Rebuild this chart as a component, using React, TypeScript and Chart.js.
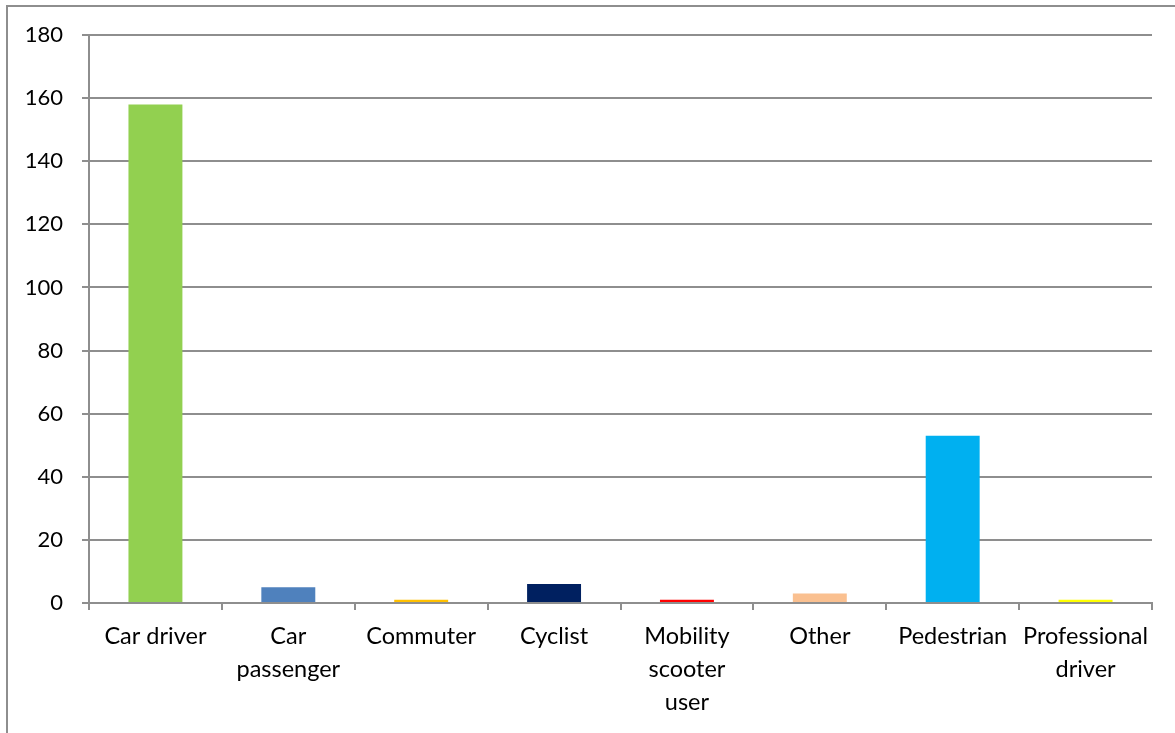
import React, { useEffect, useRef } from "react";
import { Chart, registerables } from "chart.js";

Chart.register(...registerables);

const categories: (string | string[])[] = [
  "Car driver",
  ["Car", "passenger"],
  "Commuter",
  "Cyclist",
  ["Mobility", "scooter", "user"],
  "Other",
  "Pedestrian",
  ["Professional", "driver"],
];
const values: number[] = [158, 5, 1, 6, 1, 3, 53, 1];
const barColors: string[] = [
  "#92D050",
  "#4F81BD",
  "#FFC000",
  "#002060",
  "#FF0000",
  "#FAC090",
  "#00B0F0",
  "#FFFF00",
];
const yMin = 0;
const yMax = 180;
const yStep = 20;

const FONT = "Lato, 'Open Sans', sans-serif";
const GRID = "#8e8e8e";

export default function App() {
  const ref = useRef<HTMLCanvasElement | null>(null);

  useEffect(() => {
    if (!ref.current) return;
    const chart = new Chart(ref.current, {
      type: "bar",
      data: {
        labels: categories,
        datasets: [
          {
            data: values,
            backgroundColor: barColors,
            borderWidth: 0,
            barPercentage: 0.406,
            categoryPercentage: 1,
          },
        ],
      },
      options: {
        animation: false,
        responsive: false,
        maintainAspectRatio: false,
        devicePixelRatio: 1,
        layout: { padding: { left: 0, right: 23, top: 35, bottom: 0 } },
        plugins: {
          legend: { display: false },
          tooltip: { enabled: false },
          title: { display: false },
        },
        scales: {
          x: {
            offset: true,
            grid: {
              offset: true,
              drawOnChartArea: false,
              drawTicks: true,
              tickLength: 7,
              color: GRID,
              lineWidth: 2,
            },
            border: { display: true, color: GRID, width: 2 },
            ticks: {
              autoSkip: false,
              maxRotation: 0,
              minRotation: 0,
              color: "#000",
              padding: 10,
              font: { family: FONT, size: 23.5, lineHeight: 33 / 23.5 },
            },
            afterFit: (scale: any) => {
              scale.height = 130;
            },
          },
          y: {
            min: yMin,
            max: yMax,
            ticks: {
              stepSize: yStep,
              color: "#000",
              padding: 19,
              font: { family: FONT, size: 22 },
            },
            grid: {
              color: GRID,
              lineWidth: 2,
              tickLength: 7,
              drawTicks: true,
            },
            border: { display: true, color: GRID, width: 2 },
            afterFit: (scale: any) => {
              scale.width = 89;
            },
          },
        },
      },
    });
    return () => chart.destroy();
  }, []);

  return (
    <div
      style={{
        position: "fixed",
        left: 0,
        top: 0,
        width: 1175,
        height: 733,
        background: "#fff",
        overflow: "hidden",
      }}
    >
      <div
        style={{
          position: "absolute",
          left: 6,
          top: 5,
          width: 1175,
          height: 733,
          borderLeft: "2px solid #8e8e8e",
          borderTop: "2px solid #8e8e8e",
          boxSizing: "border-box",
        }}
      />
      <canvas
        ref={ref}
        width={1175}
        height={733}
        style={{ position: "absolute", left: 0, top: 0, width: 1175, height: 733 }}
      />
    </div>
  );
}
